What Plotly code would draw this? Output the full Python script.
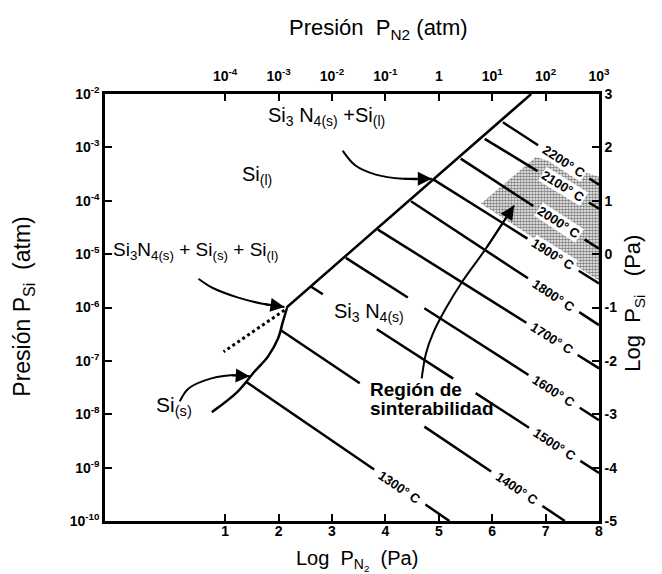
import math
import plotly.graph_objects as go

# ---------------- axis ticks ----------------
x_tick_vals = [1, 2, 3, 4, 5, 6, 7, 8]
bottom_tick_text = ["1", "2", "3", "4", "5", "6", "7", "8"]
top_tick_text = ["10<sup>-4</sup>", "10<sup>-3</sup>", "10<sup>-2</sup>", "10<sup>-1</sup>", "1",
                 "10<sup>1</sup>", "10<sup>2</sup>", "10<sup>3</sup>"]
y_tick_vals = [-5, -4, -3, -2, -1, 0, 1, 2, 3]
left_tick_text = ["10<sup>-10</sup>", "10<sup>-9</sup>", "10<sup>-8</sup>", "10<sup>-7</sup>", "10<sup>-6</sup>",
                  "10<sup>-5</sup>", "10<sup>-4</sup>", "10<sup>-3</sup>", "10<sup>-2</sup>"]
right_tick_text = ["-5", "-4", "-3", "-2", "-1", "0", "1", "2", "3"]

# ---------------- phase boundaries (log P_N2, log P_Si in Pa) ----------------
liquid_boundary_x = [2.15, 6.73]
liquid_boundary_y = [-1.0, 3.0]
solid_boundary_x = [2.16, 2.08, 1.99, 1.80, 1.55, 1.23, 0.75]
solid_boundary_y = [-1.0, -1.27, -1.58, -1.92, -2.20, -2.58, -2.96]
metastable_x = [2.11, 0.97]
metastable_y = [-1.05, -1.83]

# ---------------- isotherms ----------------
iso_temps = [1300, 1400, 1500, 1600, 1700, 1800, 1900, 2000, 2100, 2200]
iso_x0 = [1.39, 2.05, 2.61, 3.26, 3.86, 4.48, 4.91, 5.41, 5.86, 6.20]
iso_y0 = [-2.39, -1.43, -0.61, -0.07, 0.46, 0.99, 1.39, 1.79, 2.16, 2.47]
iso_x1 = [5.20, 7.36, 8.0, 8.0, 8.0, 8.0, 8.0, 8.0, 8.0, 8.0]
iso_y1 = [-5.0, -5.0, -4.10, -3.11, -2.14, -1.33, -0.55, 0.10, 0.85, 1.30]
iso_label_x = [4.27, 6.46, 7.17, 7.16, 7.12, 7.15, 7.14, 7.25, 7.33, 7.34]
iso_extra_gaps = [[], [[3.52, 4.73]], [[2.83, 3.84], [5.27, 5.69]], [[4.42, 4.73]], [], [], [], [], [], []]

# ---------------- sintering region ----------------
sinter_x = [5.79, 6.82, 8.0, 8.0]
sinter_y = [0.95, 1.82, 1.45, -0.50]

# ---------------- curved arrows ----------------
arrow_liq_x = [3.20, 3.44, 3.82, 4.33, 4.87]
arrow_liq_y = [1.94, 1.66, 1.49, 1.41, 1.41]
arrow_triple_x = [0.50, 0.76, 1.23, 1.70, 2.11]
arrow_triple_y = [-0.46, -0.63, -0.81, -0.93, -0.99]
arrow_solid_x = [0.15, 0.30, 0.61, 1.10, 1.46]
arrow_solid_y = [-2.76, -2.53, -2.37, -2.27, -2.29]
arrow_sinter_x = [4.68, 4.76, 4.89, 5.13, 5.45, 5.88, 6.41]
arrow_sinter_y = [-2.33, -1.86, -1.49, -1.02, -0.50, 0.10, 0.91]

FONT = "Liberation Sans, Arial, sans-serif"

fig = go.Figure()

# sintering region (stippled)
fig.add_trace(go.Scatter(
    x=sinter_x + [sinter_x[0]], y=sinter_y + [sinter_y[0]], mode="lines",
    fill="toself", line=dict(width=0, color="rgba(0,0,0,0)"),
    fillcolor="rgba(0,0,0,0)",
    fillpattern=dict(shape=".", size=3, solidity=0.6, fgcolor="black", bgcolor="white"),
    hoverinfo="skip", showlegend=False))


def iso_y(i, x):
    return iso_y0[i] + (iso_y1[i] - iso_y0[i]) * (x - iso_x0[i]) / (iso_x1[i] - iso_x0[i])


half_gap = 0.48
seg_x, seg_y = [], []
for i, T in enumerate(iso_temps):
    gaps = sorted([[iso_label_x[i] - half_gap, iso_label_x[i] + half_gap]] + iso_extra_gaps[i])
    start = iso_x0[i]
    pieces = []
    for g0, g1 in gaps:
        if g0 > start:
            pieces.append((start, min(g0, iso_x1[i])))
        start = max(start, g1)
    if start < iso_x1[i]:
        pieces.append((start, iso_x1[i]))
    for a, b in pieces:
        seg_x += [a, b, None]
        seg_y += [iso_y(i, a), iso_y(i, b), None]

fig.add_trace(go.Scatter(x=seg_x, y=seg_y, mode="lines", line=dict(color="black", width=2.5),
                         hoverinfo="skip", showlegend=False))

# boundaries
fig.add_trace(go.Scatter(x=liquid_boundary_x, y=liquid_boundary_y, mode="lines",
                         line=dict(color="black", width=2.5), hoverinfo="skip", showlegend=False))
fig.add_trace(go.Scatter(x=solid_boundary_x, y=solid_boundary_y, mode="lines",
                         line=dict(color="black", width=2.5, shape="spline"), hoverinfo="skip", showlegend=False))
fig.add_trace(go.Scatter(x=metastable_x, y=metastable_y, mode="lines",
                         line=dict(color="black", width=3, dash="dot"), hoverinfo="skip", showlegend=False))

arrows = [(arrow_liq_x, arrow_liq_y), (arrow_triple_x, arrow_triple_y),
          (arrow_solid_x, arrow_solid_y), (arrow_sinter_x, arrow_sinter_y)]
for ax_, ay_ in arrows:
    fig.add_trace(go.Scatter(x=ax_, y=ay_, mode="lines", line=dict(color="black", width=2, shape="spline"),
                             hoverinfo="skip", showlegend=False))

# invisible trace for secondary axes
fig.add_trace(go.Scatter(x=[1], y=[0], xaxis="x2", yaxis="y2", mode="markers",
                         marker=dict(opacity=0), hoverinfo="skip", showlegend=False))

annotations = []
for ax_, ay_ in arrows:
    annotations.append(dict(x=ax_[-1], y=ay_[-1], ax=ax_[-2], ay=ay_[-2], xref="x", yref="y",
                            axref="x", ayref="y", text="", showarrow=True, arrowhead=2,
                            arrowsize=1.4, arrowwidth=2, arrowcolor="black", standoff=0))

for i, T in enumerate(iso_temps):
    xl = iso_label_x[i]
    yl = iso_y(i, xl)
    slope = (iso_y1[i] - iso_y0[i]) / (iso_x1[i] - iso_x0[i])
    ang = math.degrees(math.atan(-slope * 53.47 / 53.36))
    annotations.append(dict(x=xl, y=yl, xref="x", yref="y", text=f"{T}° C", showarrow=False,
                            textangle=ang, font=dict(family=FONT, size=13, color="black", weight="bold"),
                            bgcolor="white" if T >= 1900 else None, borderpad=0))

region_labels = [
    (2.90, 2.58, "center", "Si<sub>3</sub> N<sub>4(s)</sub> +Si<sub>(l)</sub>", 20, "normal"),
    (1.59, 1.48, "center", "Si<sub>(l)</sub>", 20, "normal"),
    (0.45, 0.05, "center", "Si<sub>3</sub>N<sub>4(s)</sub> + Si<sub>(s)</sub> + Si<sub>(l)</sub>", 19, "normal"),
    (3.69, -1.10, "center", "Si<sub>3</sub> N<sub>4(s)</sub>", 20, "normal"),
    (0.05, -2.85, "center", "Si<sub>(s)</sub>", 21, "normal"),
    (3.67, -2.53, "left", "Región de", 19, "bold"),
    (3.67, -2.89, "left", "sinterabilidad", 19, "bold"),
]
for x, y, anc, t, s, w in region_labels:
    annotations.append(dict(x=x, y=y, xref="x", yref="y", xanchor=anc, text=t, showarrow=False,
                            font=dict(family=FONT, size=s, color="black", weight=w)))

annotations += [
    dict(x=0.553, y=1.152, xref="paper", yref="paper", xanchor="center", yanchor="middle",
         text="Presión  P<sub>N2</sub> (atm)", showarrow=False,
         font=dict(family=FONT, size=22, color="black")),
    dict(x=0.51, y=-0.092, xref="paper", yref="paper", xanchor="center", yanchor="middle",
         text="Log  P<sub>N<sub>2</sub></sub>  (Pa)", showarrow=False,
         font=dict(family=FONT, size=20, color="black")),
    dict(x=-0.165, y=0.503, xref="paper", yref="paper", xanchor="center", yanchor="middle",
         text="Presión P<sub>Si</sub>  (atm)", showarrow=False, textangle=-90,
         font=dict(family=FONT, size=23, color="black")),
    dict(x=1.072, y=0.51, xref="paper", yref="paper", xanchor="center", yanchor="middle",
         text="Log  P<sub>Si</sub>   (Pa)", showarrow=False, textangle=-90,
         font=dict(family=FONT, size=22, color="black")),
]

axis_common = dict(showgrid=False, zeroline=False, showline=True, linecolor="black", linewidth=2.5,
                   ticks="inside", ticklen=7, tickwidth=2, tickcolor="black",
                   tickfont=dict(family=FONT, size=14, color="black", weight="bold"))

fig.update_layout(
    width=662, height=574,
    margin=dict(l=97, r=71, t=86, b=61),
    paper_bgcolor="white", plot_bgcolor="white",
    xaxis=dict(range=[-1.25, 8], tickvals=x_tick_vals, ticktext=bottom_tick_text,
               ticklabelstandoff=-5, **axis_common),
    xaxis2=dict(range=[-1.25, 8], tickvals=x_tick_vals, ticktext=top_tick_text, overlaying="x",
                side="top", anchor="y", ticklabelstandoff=5, **axis_common),
    yaxis=dict(range=[-5, 3], tickvals=y_tick_vals, ticktext=left_tick_text, **axis_common),
    yaxis2=dict(range=[-5, 3], tickvals=y_tick_vals, ticktext=right_tick_text, overlaying="y",
                side="right", anchor="x", **axis_common),
    annotations=annotations,
    showlegend=False,
)

fig.write_html("out.html")
